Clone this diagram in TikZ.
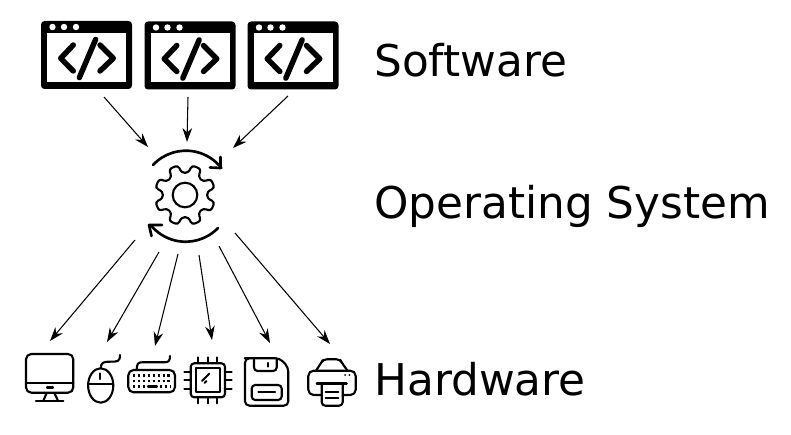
\documentclass[tikz,border=0pt]{standalone}
\usepackage{fontspec}
\setmainfont{DejaVu Sans}
\usetikzlibrary{arrows.meta}
\tikzset{
  layerlabel/.style={anchor=base west,inner sep=0pt,font=\fontsize{24.9pt}{30pt}\selectfont},
  link/.style={line width=0.6pt,-{Stealth[length=8pt,width=5.5pt]}},
  icon/.style={line width=1.2pt,line cap=round,line join=round},
  codewin/.pic={
    \fill [black,rounded corners=2pt] (0,0) rectangle (91,68);
    \fill [white] (6,12) rectangle (85,61);
    \foreach \dx in {11.5,23,35}
      \fill [white] (\dx,6) circle (3.2);
    \draw [line width=3.1pt,line cap=round,line join=round] (32.3,24)-- (19.7,37.3)-- (32.3,50);
    \draw [line width=3.1pt,line cap=round,line join=round] (54.7,18.3)-- (38.3,56.7);
    \draw [line width=3.1pt,line cap=round,line join=round] (59,24)-- (72.3,37.3)-- (59,50);
  }
}
\begin{document}
\begin{tikzpicture}[x=0.02cm,y=-0.02cm]
\useasboundingbox (0,0) rectangle (791,435);
% software
\pic at (41,21) {codewin};
\pic at (144.5,21.5) {codewin};
\pic at (247.5,21.5) {codewin};
\node [layerlabel] (software) at (374,77) {Software};
% operating system
\draw [icon] (185,195) circle (12.3);
\begin{scope}[shift={(185,195)}]
\draw [icon,rounded corners=1.8pt]
  (9:22.5) -- (13:30.5) -- (32:30.5) -- (36:22.5)
  -- (54:22.5) -- (58:30.5) -- (77:30.5) -- (81:22.5)
  -- (99:22.5) -- (103:30.5) -- (122:30.5) -- (126:22.5)
  -- (144:22.5) -- (148:30.5) -- (167:30.5) -- (171:22.5)
  -- (189:22.5) -- (193:30.5) -- (212:30.5) -- (216:22.5)
  -- (234:22.5) -- (238:30.5) -- (257:30.5) -- (261:22.5)
  -- (279:22.5) -- (283:30.5) -- (302:30.5) -- (306:22.5)
  -- (324:22.5) -- (328:30.5) -- (347:30.5) -- (351:22.5) -- cycle;
\end{scope}
\draw [icon,line width=1.5pt] (153,165) arc[start angle=-137,end angle=-38,radius=45];
\draw [icon,line width=1.5pt] (220.5,157) -- (220.5,168) -- (210,167.5);
\draw [icon,line width=1.5pt] (218,228) arc[start angle=44,end angle=141,radius=45];
\draw [icon,line width=1.5pt] (151.5,236) -- (149,225) -- (162,225);
\node [layerlabel] (os) at (374,219) {Operating System};
% hardware: monitor
\draw [icon,rounded corners=3pt] (26,354) rectangle (73.3,392.7);
\draw [icon] (26,382.7) -- (73.3,382.7);
\draw [icon] (47,387.5) -- (53,387.5);
\draw [icon] (46.7,393) -- (43.3,400.7);
\draw [icon] (54.3,393) -- (58,400.7);
\draw [icon] (36,400.7) -- (63.3,400.7);
% mouse
\draw [icon] (100.7,385.5) ellipse (12.6 and 17.2);
\draw [icon] (88.1,384) -- (113.3,384);
\draw [icon] (100,373.5) -- (100,379);
\draw [icon] (100.7,368.3) .. controls (101,362) and (104,361.7) .. (110,361.7) .. controls (117,361.7) and (120,362) .. (120,355);
% keyboard
\draw [icon,rounded corners=3pt] (128.3,370) rectangle (175,392.3);
\draw [icon] (136.7,370) .. controls (136.7,364) and (138,362.3) .. (142,362.3) -- (165,362.3) .. controls (169,362.3) and (170,360) .. (170,356);
\draw [icon,dash pattern=on 1.2pt off 1.6pt,line cap=butt] (133,375.5) -- (171,375.5);
\draw [icon,dash pattern=on 1.2pt off 1.6pt,line cap=butt] (133,381) -- (171,381);
\draw [icon,dash pattern=on 1.2pt off 1.6pt,line cap=butt] (133,386.5) -- (146,386.5);
\draw [icon] (148,386.5) -- (157,386.5);
\draw [icon,dash pattern=on 1.2pt off 1.6pt,line cap=butt] (160,386.5) -- (171,386.5);
% cpu
\draw [icon,rounded corners=2pt] (190.7,363.3) rectangle (225,397.3);
\draw [icon] (196,368.3) rectangle (220,391.7);
\foreach \px in {198.3,207.7,216.7} {
  \draw [icon] (\px,357.3) -- (\px,363.3);
  \draw [icon] (\px,397.3) -- (\px,403.3);
}
\foreach \py in {371.7,380,389.3} {
  \draw [icon] (184.3,\py) -- (190.7,\py);
  \draw [icon] (225,\py) -- (231.7,\py);
}
\draw [icon] (202,381) -- (209.5,373.5);
\draw [icon] (204.5,383) -- (206.5,381);
% floppy
\draw [icon,rounded corners=2.5pt] (249,358.3) -- (280,358.3) -- (288.3,367.3) -- (288.3,405.7) -- (245,405.7) -- (245,358.3) -- cycle;
\draw [icon,rounded corners=2pt] (254,358.3) -- (254,371) -- (276.7,371) -- (276.7,358.3);
\draw [icon] (268.3,363) -- (268.3,366.5);
\draw [icon,rounded corners=2pt] (251.7,385) rectangle (281.7,400);
\draw [icon] (258.3,392.3) -- (275,392.3);
% printer
\draw [icon,rounded corners=3pt] (321.7,395) -- (308.3,395) -- (308.3,370.7) -- (355.7,370.7) -- (355.7,395) -- (342.7,395);
\draw [icon,rounded corners=2pt] (316,370.7) -- (321,363) -- (323.3,359.3) -- (340,359.3) -- (342,363) -- (347.5,370.7);
\draw [icon] (316.7,383.5) -- (346.7,383.5);
\draw [icon,rounded corners=2pt] (321.7,383.5) -- (321.7,405.7) -- (342.7,405.7) -- (342.7,383.5);
\draw [icon] (325.7,391.7) -- (338.3,391.7);
\draw [icon] (325.7,397.7) -- (338.3,397.7);
\fill (345,375) circle (1);
\fill (349.3,375) circle (1);
\node [layerlabel] (hardware) at (374,396) {Hardware};
% connectors
\coordinate (winone) at (104,97);
\coordinate (wintwo) at (188,97);
\coordinate (winthree) at (288,96);
\coordinate (osa) at (148,147);
\coordinate (osb) at (187,142);
\coordinate (osc) at (233,148);
\coordinate (gearone) at (135,240);
\coordinate (geartwo) at (159,252);
\coordinate (gearthree) at (178,254);
\coordinate (gearfour) at (199,255);
\coordinate (gearfive) at (219,246);
\coordinate (gearsix) at (235,233);
\coordinate (monitor) at (50,341);
\coordinate (mouse) at (107,342);
\coordinate (keyboard) at (155,346);
\coordinate (cpu) at (212,340);
\coordinate (floppy) at (270,343);
\coordinate (printer) at (330,344);
\draw [link] (winone)-- (osa);
\draw [link] (wintwo)-- (osb);
\draw [link] (winthree)-- (osc);
\draw [link] (gearone)-- (monitor);
\draw [link] (geartwo)-- (mouse);
\draw [link] (gearthree)-- (keyboard);
\draw [link] (gearfour)-- (cpu);
\draw [link] (gearfive)-- (floppy);
\draw [link] (gearsix)-- (printer);
\end{tikzpicture}
\end{document}
